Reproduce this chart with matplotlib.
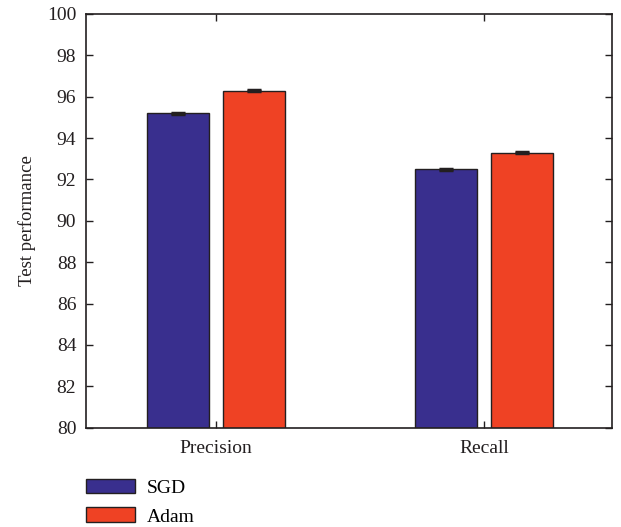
import matplotlib.pyplot as plt
from matplotlib.patches import Patch

# Metrics, optimizer scores and their (tiny) spread
metrics = ["Precision", "Recall"]
sgd = [95.2, 92.5]
adam = [96.3, 93.3]
sgd_err = [0.03, 0.03]
adam_err = [0.03, 0.03]

blue = "#392f8e"
red = "#ef4224"
edge = "#231f20"

plt.rcParams['font.family'] = ['Liberation Serif', 'DejaVu Serif']

fig = plt.figure(figsize=(6.21, 5.27), dpi=100)
ax = fig.add_axes([86 / 621, 1 - 427.7 / 527, 526 / 621, 413.7 / 527])

pos = [1, 2]
w = 0.231
off = 0.143
xs_sgd = [p - off for p in pos]
xs_adam = [p + off for p in pos]

ax.bar(xs_sgd, sgd, width=w, bottom=0, color=blue, edgecolor=edge, linewidth=1.0, zorder=2)
ax.bar(xs_adam, adam, width=w, bottom=0, color=red, edgecolor=edge, linewidth=1.0, zorder=2)
ax.errorbar(xs_sgd, sgd, yerr=sgd_err, fmt='none', ecolor=edge, elinewidth=1,
            capsize=5, capthick=2.5, zorder=3)
ax.errorbar(xs_adam, adam, yerr=adam_err, fmt='none', ecolor=edge, elinewidth=1,
            capsize=5, capthick=2.5, zorder=3)

ax.set_xlim(0.515, 2.478)
ax.set_ylim(80, 100)
ax.set_yticks(range(80, 101, 2))
ax.set_xticks(pos)
ax.set_xticklabels(metrics)
ax.tick_params(direction='in', top=True, right=True, length=5, width=1,
               labelsize=14, colors='#231f20', pad=7)
ax.tick_params(axis='x', pad=9)
for s in ax.spines.values():
    s.set_linewidth(1.2)
    s.set_color('#231f20')
ax.set_ylabel("Test performance", fontsize=13.5, color='#231f20', labelpad=8)

handles = [Patch(facecolor=blue, edgecolor=edge, label="SGD"),
           Patch(facecolor=red, edgecolor=edge, label="Adam")]
fig.legend(handles=handles, loc='upper left', bbox_to_anchor=(86 / 621, 1 - 478.5 / 527),
           frameon=False, fontsize=14, handlelength=2.5, handleheight=0.8,
           handletextpad=0.65, labelspacing=0.55, borderpad=0, borderaxespad=0)

fig.savefig("out.png", dpi=100)
